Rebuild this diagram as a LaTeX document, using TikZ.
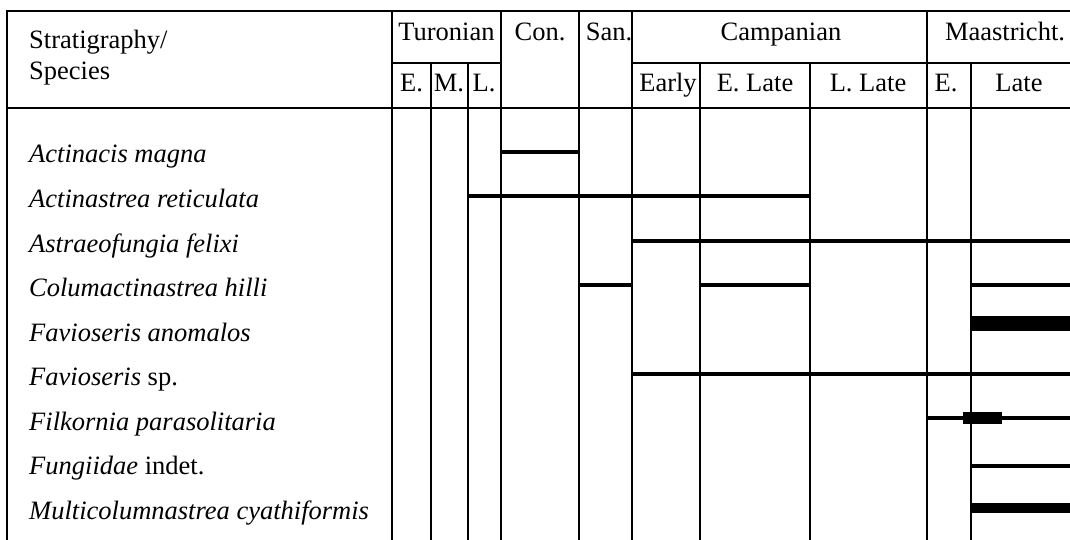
\documentclass[tikz,border=0pt]{standalone}
\usepackage{fontspec}
\setmainfont{Liberation Serif}
\begin{document}
\fontsize{26.5}{30}\selectfont
\begin{tikzpicture}[x=1pt, y=-1pt, line cap=butt,
    every node/.style={inner sep=0pt},
    rule/.style={line width=1.2pt},
    occur/.style={line width=3.4pt},
    head/.style={anchor=base},
    taxon/.style={anchor=base west}]
  \useasboundingbox (0,0) rectangle (1070,540);
  %--- Frame
    \draw[rule] (1070,11) -- (7,11) -- (7,540);
    \draw[rule] (7,108) -- (1070,108);
    \draw[rule] (392,63) -- (501,63);
    \draw[rule] (632,63) -- (1070,63);
    \foreach \x in {392,501,579,632,927}
      \draw[rule] (\x,11) -- (\x,540);
    \foreach \x in {431,468,700,810,971}
      \draw[rule] (\x,63) -- (\x,540);
  %--- Stages
    \node[taxon] (strat) at (29,49) {Stratigraphy/};
    \node[taxon] (species) at (29,80) {Species};
    \node[head] (turonian) at (446.5,41) {Turonian};
    \node[head] (coniacian) at (540,41) {Con.};
    \node[head] (santonian) at (609,41) {San.};
    \node[head] (campanian) at (781,41) {Campanian};
    \node[head] (maastricht) at (1005,41) {Maastricht.};
  %--- Substages
    \node[head] (turE) at (411.5,92) {E.};
    \node[head] (turM) at (449,92) {M.};
    \node[head] (turL) at (484,92) {L.};
    \node[head] (camE) at (668,92) {Early};
    \node[head] (camEL) at (755,92) {E. Late};
    \node[head] (camLL) at (868,92) {L. Late};
    \node[head] (maaE) at (946,92) {E.};
    \node[head] (maaL) at (1019,92) {Late};
  %--- Species
    \node[taxon] (magna) at (29,163) {\textit{Actinacis magna}};
    \node[taxon] (reticulata) at (29,207.5) {\textit{Actinastrea reticulata}};
    \node[taxon] (felixi) at (29,252) {\textit{Astraeofungia felixi}};
    \node[taxon] (hilli) at (29,296.5) {\textit{Columactinastrea hilli}};
    \node[taxon] (anomalos) at (29,341) {\textit{Favioseris anomalos}};
    \node[taxon] (faviosp) at (29,385.5) {\textit{Favioseris} sp.};
    \node[taxon] (parasol) at (29,430) {\textit{Filkornia parasolitaria}};
    \node[taxon] (fungiid) at (29,474.5) {\textit{Fungiidae} indet.};
    \node[taxon] (cyathi) at (29,519) {\textit{Multicolumnastrea cyathiformis}};
  %--- Ranges
    \draw[occur] (501,152) -- (579,152);
    \draw[occur] (468,196) -- (810,196);
    \draw[occur] (632,241) -- (1070,241);
    \draw[occur] (579,285) -- (632,285);
    \draw[occur] (700,285) -- (810,285);
    \draw[occur] (971,285) -- (1070,285);
    \fill (971,316) rectangle (1070,331);
    \draw[occur] (632,374) -- (1070,374);
    \draw[occur] (927,418) -- (1070,418);
    \fill (963,412) rectangle (1002,424);
    \draw[occur] (971,466) -- (1070,466);
    \fill (971,503) rectangle (1070,513);
\end{tikzpicture}
\end{document}
